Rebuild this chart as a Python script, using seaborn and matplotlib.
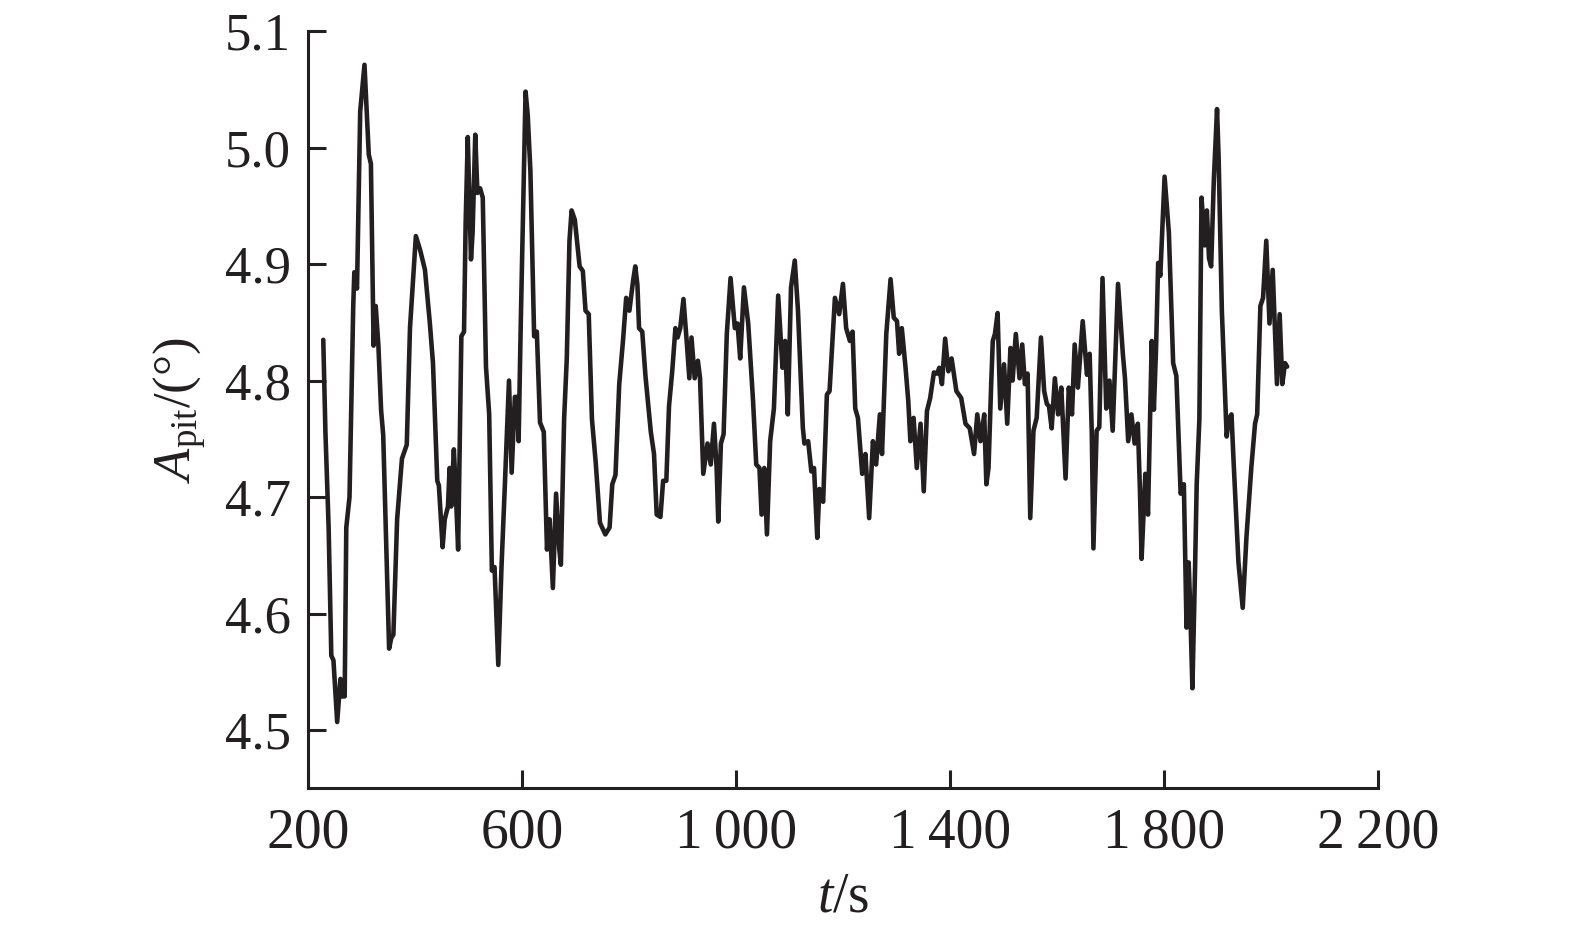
import numpy as np
import pandas as pd
import matplotlib
matplotlib.use("Agg")
import matplotlib.pyplot as plt
import seaborn as sns

# time (s) and pitch amplitude (deg)
t_s = [
    229, 233, 239, 244, 248, 255, 261, 264, 269, 272, 278, 285, 287, 292, 298, 306,
    314, 318, 323, 327, 332, 337, 341, 352, 356, 360, 367, 376, 385, 391, 402, 410,
    419, 428, 434, 442, 445, 452, 456, 462, 465, 468, 473, 476, 481, 487, 492, 495,
    499, 505, 508, 513, 517, 522, 527, 533, 539, 544, 549, 556, 562, 568, 576, 581,
    587, 591, 594, 598, 607, 611, 616, 623, 628, 634, 641, 647, 652, 658, 664, 670,
    673, 679, 684, 689, 693, 699, 708, 714, 719, 725, 731, 738, 746, 756, 764, 769,
    775, 782, 789, 795, 801, 808, 812, 816, 819, 825, 831, 841, 847, 852, 859, 864,
    870, 875, 881, 887, 891, 896, 902, 908, 913, 917, 923, 929, 933, 939, 947, 953,
    959, 964, 967, 972, 977, 983, 990, 998, 1003, 1008, 1015, 1023, 1032, 1038, 1044, 1048,
    1053, 1058, 1064, 1071, 1079, 1087, 1092, 1097, 1103, 1110, 1116, 1125, 1128, 1135, 1141, 1146,
    1152, 1156, 1163, 1170, 1175, 1185, 1193, 1200, 1206, 1213, 1218, 1223, 1228, 1236, 1242, 1249,
    1256, 1262, 1269, 1273, 1281, 1289, 1295, 1301, 1305, 1310, 1317, 1322, 1326, 1332, 1338, 1345,
    1351, 1357, 1363, 1370, 1376, 1380, 1385, 1391, 1397, 1403, 1412, 1421, 1429, 1437, 1445, 1451,
    1457, 1464, 1468, 1472, 1477, 1480, 1484, 1489, 1494, 1501, 1507, 1513, 1517, 1523, 1530, 1535,
    1540, 1545, 1550, 1556, 1562, 1570, 1576, 1581, 1585, 1590, 1596, 1602, 1608, 1616, 1622, 1628,
    1633, 1639, 1648, 1656, 1661, 1665, 1668, 1674, 1679, 1685, 1692, 1698, 1704, 1714, 1723, 1727,
    1733, 1739, 1745, 1751, 1755, 1758, 1765, 1770, 1777, 1781, 1785, 1789, 1793, 1801, 1809, 1817,
    1823, 1831, 1837, 1842, 1846, 1849, 1853, 1858, 1861, 1866, 1870, 1876, 1880, 1884, 1888, 1893,
    1899, 1902, 1908, 1917, 1921, 1926, 1930, 1939, 1947, 1954, 1963, 1970, 1974, 1980, 1985, 1991,
    1997, 2003, 2011, 2016, 2021, 2026, 2030,
]
a_pit = [
    4.835, 4.756, 4.674, 4.564, 4.560, 4.507, 4.544, 4.529, 4.529, 4.674, 4.700, 4.864, 4.893, 4.879, 5.031, 5.071,
    4.994, 4.986, 4.830, 4.864, 4.830, 4.775, 4.753, 4.570, 4.579, 4.582, 4.681, 4.733, 4.745, 4.845, 4.924, 4.912,
    4.895, 4.850, 4.815, 4.714, 4.710, 4.657, 4.681, 4.692, 4.725, 4.692, 4.741, 4.711, 4.655, 4.838, 4.842, 4.935,
    5.009, 4.904, 4.927, 5.011, 4.961, 4.965, 4.957, 4.812, 4.771, 4.637, 4.640, 4.556, 4.640, 4.707, 4.800, 4.721,
    4.786, 4.786, 4.748, 4.849, 5.048, 5.028, 4.980, 4.838, 4.842, 4.764, 4.756, 4.655, 4.681, 4.622, 4.703, 4.655,
    4.642, 4.767, 4.819, 4.920, 4.946, 4.938, 4.898, 4.894, 4.860, 4.857, 4.767, 4.730, 4.678, 4.668, 4.674, 4.711,
    4.719, 4.797, 4.834, 4.871, 4.860, 4.886, 4.898, 4.882, 4.845, 4.842, 4.804, 4.756, 4.737, 4.685, 4.683, 4.714,
    4.714, 4.778, 4.808, 4.845, 4.837, 4.845, 4.870, 4.834, 4.802, 4.837, 4.802, 4.817, 4.802, 4.720, 4.746, 4.728,
    4.763, 4.725, 4.679, 4.746, 4.754, 4.840, 4.888, 4.845, 4.849, 4.819, 4.880, 4.849, 4.783, 4.728, 4.725, 4.685,
    4.725, 4.668, 4.748, 4.776, 4.873, 4.811, 4.834, 4.771, 4.880, 4.903, 4.860, 4.760, 4.746, 4.748, 4.722, 4.725,
    4.665, 4.707, 4.696, 4.788, 4.791, 4.871, 4.857, 4.883, 4.845, 4.834, 4.842, 4.776, 4.768, 4.720, 4.737, 4.682,
    4.748, 4.728, 4.771, 4.737, 4.840, 4.887, 4.854, 4.851, 4.823, 4.845, 4.811, 4.783, 4.748, 4.768, 4.725, 4.763,
    4.705, 4.774, 4.785, 4.807, 4.806, 4.811, 4.797, 4.836, 4.808, 4.819, 4.791, 4.785, 4.763, 4.759, 4.737, 4.771,
    4.748, 4.771, 4.711, 4.725, 4.797, 4.834, 4.840, 4.858, 4.776, 4.814, 4.763, 4.828, 4.800, 4.840, 4.802, 4.831,
    4.797, 4.806, 4.682, 4.757, 4.768, 4.837, 4.791, 4.780, 4.778, 4.759, 4.802, 4.771, 4.794, 4.716, 4.794, 4.771,
    4.831, 4.794, 4.851, 4.805, 4.823, 4.754, 4.656, 4.757, 4.760, 4.888, 4.776, 4.800, 4.757, 4.883, 4.823, 4.802,
    4.748, 4.771, 4.746, 4.763, 4.705, 4.647, 4.720, 4.685, 4.834, 4.775, 4.827, 4.901, 4.890, 4.975, 4.927, 4.815,
    4.804, 4.703, 4.711, 4.588, 4.644, 4.603, 4.536, 4.640, 4.711, 4.767, 4.957, 4.916, 4.946, 4.905, 4.898, 4.972,
    5.033, 4.991, 4.860, 4.752, 4.767, 4.771, 4.730, 4.644, 4.605, 4.666, 4.725, 4.763, 4.771, 4.864, 4.871, 4.920,
    4.849, 4.895, 4.797, 4.857, 4.797, 4.815, 4.812,
]

x_ticks = [200, 600, 1000, 1400, 1800, 2200]
x_tick_labels = ["200", "600", "1\u2009000", "1\u2009400", "1\u2009800", "2\u2009200"]
y_ticks = [4.5, 4.6, 4.7, 4.8, 4.9, 5.0, 5.1]

sns.set_style("ticks")
plt.rcParams["font.family"] = ["Liberation Serif", "DejaVu Serif"]
plt.rcParams["mathtext.fontset"] = "custom"
plt.rcParams["mathtext.rm"] = "Liberation Serif"
plt.rcParams["mathtext.it"] = "Liberation Serif:italic"

ink = "#231f20"
df = pd.DataFrame({"t": t_s, "A": a_pit})

fig = plt.figure(figsize=(15.75, 9.25), dpi=100)
ax = fig.add_axes([0.1954, 0.1476, 0.6796, 0.8189])

sns.lineplot(data=df, x="t", y="A", ax=ax, color=ink, linewidth=3.3,
             sort=False, estimator=None)

ax.set_xlim(200, 2200)
ax.set_ylim(4.45, 5.1)
ax.set_xticks(x_ticks)
ax.set_xticklabels(x_tick_labels)
ax.set_yticks(y_ticks)
ax.set_yticklabels([f"{y:.1f}" for y in y_ticks])

sns.despine(ax=ax)
for side in ["left", "bottom"]:
    ax.spines[side].set_linewidth(2.2)
    ax.spines[side].set_color(ink)

ax.tick_params(axis="both", direction="in", length=13, width=2.2, colors=ink,
               labelcolor=ink)
ax.tick_params(axis="x", labelsize=40, pad=14)
ax.tick_params(axis="y", labelsize=38, pad=12)

ax.set_xlabel(r"$t$/s", fontsize=40, color=ink, labelpad=8)
ax.set_ylabel(r"$A_{\mathrm{pit}}$/(°)", fontsize=38, color=ink, labelpad=12)

fig.savefig("out.png", dpi=100, facecolor="white")
